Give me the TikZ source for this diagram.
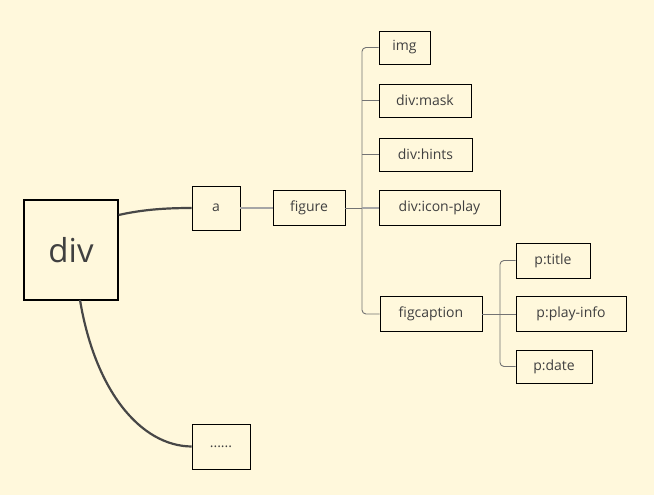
\documentclass[tikz,border=0pt]{standalone}
\usepackage{fontspec}
\setmainfont{Open Sans}
\begin{document}
\begin{tikzpicture}[x=1pt,y=-1pt,
  box/.style={draw=black, line width=0.7pt, inner sep=0pt, text=black!75, font=\fontsize{14}{16}\selectfont},
  big/.style={draw=black, line width=1.3pt, inner sep=0pt, text=black!75, font=\fontsize{33}{38}\selectfont},
  thick conn/.style={draw=black!72, line width=2.2pt},
  thin conn/.style={draw=black!55, line width=0.9pt, rounded corners=4pt},
  light conn/.style={draw=black!35, line width=1.1pt}]
\fill[fill={rgb,255:red,255;green,248;blue,220}] (0,0) rectangle (654,495);
\useasboundingbox (0,0) rectangle (654,495);
\node[big, minimum width=94pt, minimum height=100pt] (div) at (71,250) {div};
\node[box, minimum width=48pt, minimum height=44pt] (a) at (216,208) {a};
\node[box, minimum width=72pt, minimum height=35pt] (figure) at (309,208) {figure};
\node[box, minimum width=51pt, minimum height=33pt] (img) at (404.5,47.5) {img};
\node[box, minimum width=92pt, minimum height=33pt] (mask) at (425,100.5) {div:mask};
\node[box, minimum width=93pt, minimum height=33pt] (hints) at (425.5,154.5) {div:hints};
\node[box, minimum width=121pt, minimum height=35pt] (icon) at (439.5,208) {div:icon-play};
\node[box, minimum width=102pt, minimum height=35pt] (figcap) at (431,314) {figcaption};
\node[box, minimum width=74pt, minimum height=35pt] (title) at (553,260.5) {p:title};
\node[box, minimum width=110pt, minimum height=35pt] (play) at (571,314) {p:play-info};
\node[box, minimum width=76pt, minimum height=33pt] (date) at (554,366.5) {p:date};
\node[box, minimum width=58pt, minimum height=45pt] (dots) at (221,446.5) {......};
% thick connectors
\draw[thick conn] (div.east |- 0,215) .. controls (145,209) and (170,208) .. (a.west);
\draw[thick conn] (80,300) .. controls (95,390) and (140,446) .. (dots.west);
% a to figure
\draw[light conn] (a.east) -- (figure.west);
% figure tree
\coordinate (t1) at (362,208);
\draw[thin conn] (figure.east) -- (t1);
\draw[thin conn] (img.west) -- (362,47.5) -- (362,314) -- (figcap.west);
\draw[thin conn] (mask.west) -- (362,100.5);
\draw[thin conn] (hints.west) -- (362,154.5);
\draw[light conn] (icon.west) -- (t1);
% figcaption tree
\coordinate (t2) at (500,314);
\draw[thin conn] (figcap.east) -- (t2);
\draw[thin conn] (title.west) -- (500,260.5) -- (500,366.5) -- (date.west);
\draw[thin conn] (play.west) -- (t2);
\end{tikzpicture}
\end{document}
